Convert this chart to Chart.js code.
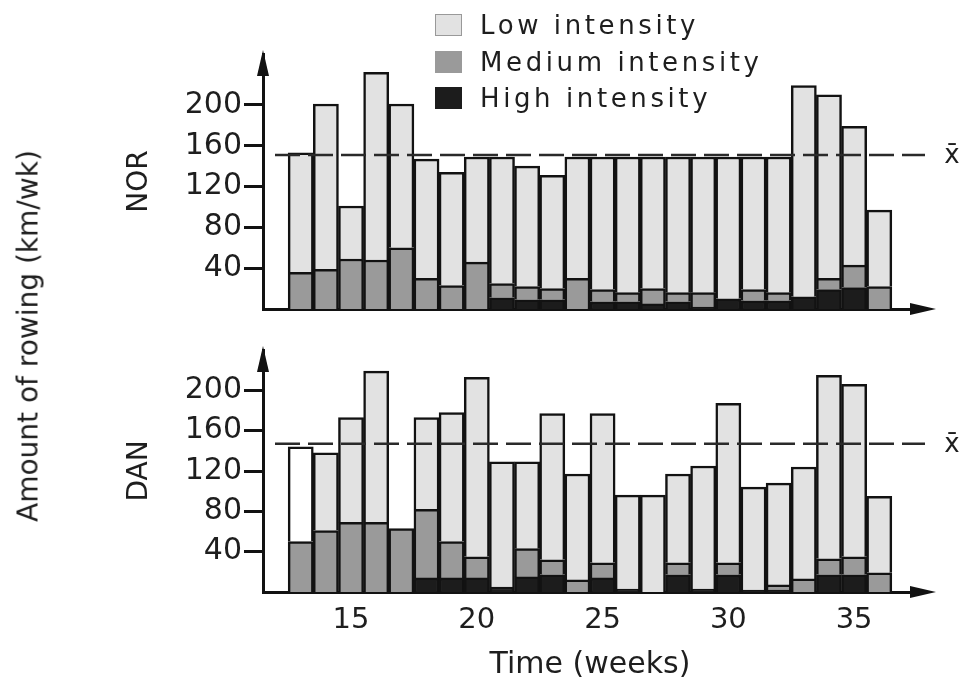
<!DOCTYPE html>
<html>
<head>
<meta charset="utf-8">
<title>Amount of rowing per week, NOR and DAN</title>
<script src="https://cdn.jsdelivr.net/npm/chart.js@4.4.1/dist/chart.umd.min.js"></script>
<style>
    html, body { margin: 0; padding: 0; background: #fff; }
    #page { position: relative; width: 968px; height: 686px; overflow: hidden; font-family: "DejaVu Sans", sans-serif; color: #1e1e1e; }
    canvas { position: absolute; left: 0; }
    #norChart { top: 0; }
    #danChart { top: 330px; }
    .yTitle { position: absolute; left: 28px; top: 336px; transform: translate(-50%, -50%) rotate(-90deg); font-size: 28px; white-space: nowrap; }
    .legend { position: absolute; left: 435px; top: 0; }
    .legend .item { position: absolute; left: 0; height: 30px; width: 400px; }
    .legend .swatch { position: absolute; left: 0; top: 4px; width: 27px; height: 22px; box-sizing: border-box; }
    .legend .text { position: absolute; left: 45px; top: 0; font-size: 26px; line-height: 30px; letter-spacing: 3.6px; white-space: nowrap; }
</style>
</head>
<body>
<div id="page">
    <canvas id="norChart" width="968" height="330"></canvas>
    <canvas id="danChart" width="968" height="356"></canvas>
    <div class="yTitle">Amount of rowing (km/wk)</div>
    <div class="legend">
        <div class="item" style="top:10px"><div class="swatch" style="background:#e2e2e2;border:1px solid #999"></div><div class="text">Low intensity</div></div>
        <div class="item" style="top:47px"><div class="swatch" style="background:#9a9a9a"></div><div class="text">Medium intensity</div></div>
        <div class="item" style="top:83px"><div class="swatch" style="background:#1c1c1c"></div><div class="text">High intensity</div></div>
    </div>
</div>
<script>
// axis slots: one empty week before and after the data
const axisWeeks = ['12', '13', '14', '15', '16', '17', '18', '19', '20', '21', '22', '23', '24',
    '25', '26', '27', '28', '29', '30', '31', '32', '33', '34', '35', '36', '37'];
const dataWeeks = [13, 14, 15, 16, 17, 18, 19, 20, 21, 22, 23, 24,
    25, 26, 27, 28, 29, 30, 31, 32, 33, 34, 35, 36];
const yTicks = [40, 80, 120, 160, 200];

// NOR (km/wk)
const norHigh = [0, 0, 0, 0, 0, 0, 0, 0, 11, 9, 9, 0, 7, 7, 5, 7, 2, 10, 8, 8, 12, 19, 21, 0];
const norMedium = [36, 39, 49, 48, 60, 30, 23, 46, 14, 13, 11, 30, 12, 9, 15, 9, 14, 0, 11, 8, 0, 11, 22, 22];
const norLow = [117, 162, 52, 184, 141, 117, 111, 103, 124, 118, 111, 119, 130, 133, 129, 133, 133, 139, 130, 133, 207, 180, 136, 75];
const norMean = 151;

// DAN (km/wk)
const danHigh = [0, 0, 0, 0, 0, 14, 14, 14, 5, 15, 17, 0, 14, 3, 0, 17, 3, 17, 2, 2, 0, 17, 17, 0];
const danMedium = [50, 61, 69, 69, 63, 68, 36, 21, 0, 28, 15, 12, 15, 0, 0, 12, 0, 12, 0, 5, 13, 16, 18, 19];
const danLow = [94, 77, 104, 150, 0, 91, 128, 178, 124, 86, 145, 105, 148, 93, 96, 88, 122, 158, 102, 101, 111, 182, 171, 76];
const danMean = 147;

const INK = '#121212';
const TEXT = '#1e1e1e';
const FONT = '"DejaVu Sans", sans-serif';
const LOW_FILL = '#e2e2e2';
const MED_FILL = '#9a9a9a';
const HIGH_FILL = '#1c1c1c';

/**
 * [value] listesini kategori eksenine göre {x, y} noktalarına çevir
 */
function toPoints(values) {
    return values.map((v, i) => ({ x: String(dataWeeks[i]), y: v }));
}

/**
 * Ok uçları, ortalama çizgisi ve x̄ etiketi
 */
const axisDecor = {
    id: 'axisDecor',
    afterDraw(chart, args, opts) {
        const { ctx, chartArea } = chart;
        const { left, right, top, bottom } = chartArea;
        const yScale = chart.scales.y;

        ctx.save();
        ctx.fillStyle = INK;
        ctx.strokeStyle = INK;

        // y axis arrow head
        ctx.beginPath();
        ctx.moveTo(left, top - 4);
        ctx.lineTo(left - 6, top + 22);
        ctx.lineTo(left + 6, top + 22);
        ctx.closePath();
        ctx.fill();

        // x axis extension and arrow head
        ctx.lineWidth = 3;
        ctx.beginPath();
        ctx.moveTo(right - 2, bottom);
        ctx.lineTo(right + 8, bottom);
        ctx.stroke();
        ctx.beginPath();
        ctx.moveTo(right + 19, bottom);
        ctx.lineTo(right - 7, bottom - 6);
        ctx.lineTo(right - 7, bottom + 6);
        ctx.closePath();
        ctx.fill();

        // mean line
        const my = yScale.getPixelForValue(opts.value);
        ctx.strokeStyle = '#2a2a2a';
        ctx.lineWidth = 2.5;
        ctx.setLineDash([25, 8]);
        ctx.beginPath();
        ctx.moveTo(left + 12, my);
        ctx.lineTo(right + 8, my);
        ctx.stroke();
        ctx.setLineDash([]);

        ctx.fillStyle = TEXT;
        ctx.font = '26px ' + FONT;
        ctx.textAlign = 'center';
        ctx.textBaseline = 'middle';
        ctx.fillText('x\u0304', right + 35, my + 1);
        ctx.restore();
    }
};

/**
 * Bir panel (NOR / DAN) için yığılmış bar chart oluştur
 */
function createPanel(canvasId, options) {
    const { high, medium, low, mean, yMax, title, padTop, xHeight, showWeeks, lowFill = LOW_FILL } = options;

    return new Chart(document.getElementById(canvasId), {
        type: 'bar',
        data: {
            labels: axisWeeks,
            datasets: [
                { label: 'High intensity', data: toPoints(high), backgroundColor: HIGH_FILL },
                { label: 'Medium intensity', data: toPoints(medium), backgroundColor: MED_FILL },
                { label: 'Low intensity', data: toPoints(low), backgroundColor: lowFill }
            ]
        },
        options: {
            responsive: false,
            animation: false,
            layout: { padding: { top: padTop, left: 123, right: 51, bottom: 0 } },
            datasets: {
                bar: { barPercentage: 1, categoryPercentage: 1, borderWidth: 2.5, borderColor: INK }
            },
            plugins: {
                legend: { display: false },
                tooltip: { enabled: false },
                axisDecor: { value: mean }
            },
            scales: {
                x: {
                    stacked: true,
                    z: 1,
                    grid: { display: false, drawTicks: false },
                    border: { display: true, width: 3, color: INK },
                    ticks: {
                        display: showWeeks,
                        autoSkip: false,
                        maxRotation: 0,
                        padding: 11,
                        color: TEXT,
                        font: { family: FONT, size: 29 },
                        callback: function (value) {
                            const w = Number(this.getLabelForValue(value));
                            return w % 5 === 0 ? String(w) : '';
                        }
                    },
                    title: {
                        display: showWeeks,
                        text: 'Time (weeks)',
                        color: TEXT,
                        font: { family: FONT, size: 30 },
                        padding: { top: 0, bottom: 3 }
                    },
                    afterFit: scale => { scale.height = xHeight; }
                },
                y: {
                    stacked: true,
                    min: 0,
                    max: yMax,
                    z: 1,
                    afterBuildTicks: scale => { scale.ticks = yTicks.map(v => ({ value: v })); },
                    afterFit: scale => { scale.width = 140; },
                    grid: { drawOnChartArea: false, drawTicks: true, tickLength: 19, tickWidth: 3, tickColor: INK },
                    border: { display: true, width: 3, color: INK },
                    ticks: { padding: 2, color: TEXT, font: { family: FONT, size: 30 } },
                    title: {
                        display: true,
                        text: title,
                        color: TEXT,
                        font: { family: FONT, size: 28 },
                        padding: 0
                    }
                }
            }
        },
        plugins: [axisDecor]
    });
}

createPanel('norChart', {
    high: norHigh, medium: norMedium, low: norLow, mean: norMean,
    yMax: 250, title: 'NOR', padTop: 54, xHeight: 21, showWeeks: false
});

createPanel('danChart', {
    high: danHigh, medium: danMedium, low: danLow, mean: danMean,
    yMax: 240, title: 'DAN', padTop: 18, xHeight: 94, showWeeks: true,
    // first DAN week is drawn unshaded in the original
    lowFill: ctx => (ctx.raw && ctx.raw.x === '13') ? '#ffffff' : LOW_FILL
});
</script>
</body>
</html>
